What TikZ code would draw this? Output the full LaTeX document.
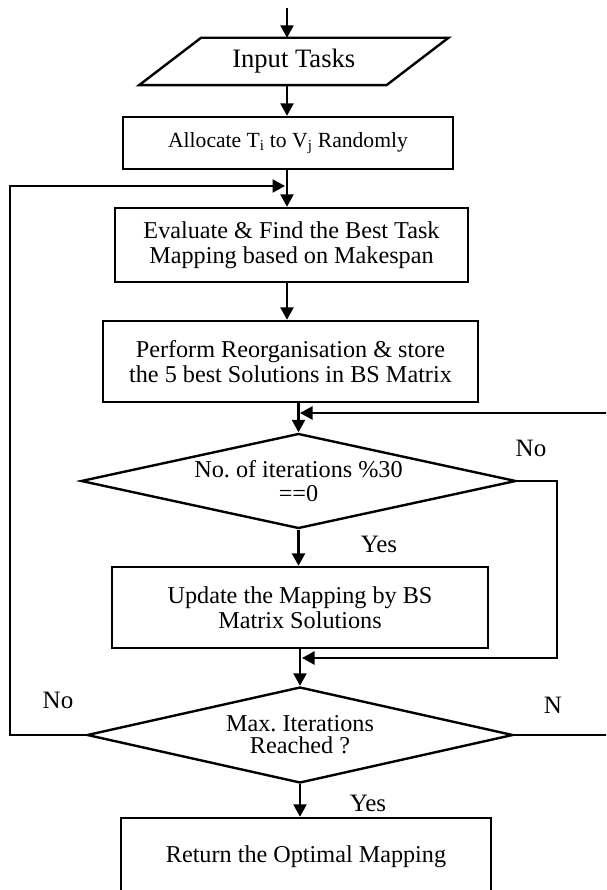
\documentclass[tikz,border=0pt]{standalone}
\usepackage{fontspec}
\setmainfont{Liberation Serif}
\frenchspacing
\usetikzlibrary{arrows.meta,shapes.geometric}
\begin{document}
\begin{tikzpicture}[x=1pt,y=-1pt,
  line/.style={line width=2.4pt},
  flow/.style={line, -{Triangle[length=12.5pt,width=13pt]}},
  stepbox/.style={draw, line width=2.4pt, rectangle, inner sep=0pt, align=center,
    font=\fontsize{24.2}{24.5}\selectfont},
  decision/.style={draw, line width=2.4pt, diamond, aspect=4.6, inner sep=0pt,
    align=center, font=\fontsize{24.2}{24.5}\selectfont},
  iobody/.style={rectangle, inner sep=0pt, align=center},
  lbl/.style={font=\fontsize{25}{25}\selectfont, inner sep=0pt}
]
\fill[white] (0,0) rectangle (606,890);
\useasboundingbox (0,0) rectangle (606,890);
\clip (0,0) rectangle (606,890);

% process steps
\node[iobody, font=\fontsize{26.6}{27}\selectfont, minimum width=247pt, minimum height=47pt]
  (input) at (293.75,61.5) {Input Tasks};
\draw[line] ([xshift=31pt]input.north west) -- ([xshift=31pt]input.north east)
  -- ([xshift=-31pt]input.south east) -- ([xshift=-31pt]input.south west) -- cycle;
\node[stepbox, font=\fontsize{21.6}{22}\selectfont, minimum width=330pt, minimum height=52pt]
  (alloc) at (288,143) {Allocate T\textsubscript{i} to V\textsubscript{j} Randomly};
\node[stepbox, minimum width=353pt, minimum height=74pt]
  (eval) at (291.5,245) {Evaluate \& Find the Best Task\\Mapping based on Makespan};
\node[stepbox, minimum width=375pt, minimum height=81pt]
  (reorg) at (290.5,361.5) {Perform Reorganisation \& store\\the 5 best Solutions in BS Matrix};
\node[decision, minimum width=435pt, minimum height=95pt]
  (d1) at (298.5,481) {No. of iterations \%30\\==0};
\node[stepbox, minimum width=376pt, minimum height=81pt]
  (update) at (300,607.5) {Update the Mapping by BS\\Matrix Solutions};
\node[decision, font=\fontsize{24.2}{22}\selectfont, minimum width=426pt, minimum height=96pt]
  (d2) at (300,735) {Max. Iterations\\Reached ?};
\node[stepbox, minimum width=370pt, minimum height=78pt]
  (ret) at (306,857) {Return the Optimal Mapping};

% junction points and loop corners
\coordinate (entry) at (287,8);
\coordinate (j1) at (285,186);
\coordinate (lc) at (10,186);
\coordinate (j2) at (300,413);
\coordinate (rc) at (612,413);
\coordinate (mr) at (557,658);
\coordinate (j3) at (302,658);

% main flow
\draw[flow] (entry) -- (entry |- input.north);
\draw[flow] (entry |- input.south) -- (entry |- alloc.north);
\draw[flow] (entry |- alloc.south) -- (entry |- eval.north);
\draw[flow] (entry |- eval.south) -- (entry |- reorg.north);
\draw[flow] (d1.north |- reorg.south) -- (d1.north);
\draw[flow] (d1.south) -- (d1.south |- update.north);
\draw[flow] (update.south) -- (d2.north);
\draw[flow] (d2.south) -- (d2.south |- ret.north);

% loops back
\draw[flow] (d2.west) -| (lc) -- (j1);
\draw[flow] (d2.east) -| (rc) -- (j2);
\draw[flow] (d1.east) -| (mr) -- (j3);

% branch labels
\node[lbl] (no1) at (531,448) {No};
\node[lbl] (yes1) at (379,544) {Yes};
\node[lbl] (no2) at (58,700) {No};
\node[lbl] (n2) at (553,705) {N};
\node[lbl] (yes2) at (368,803) {Yes};
\end{tikzpicture}
\end{document}
